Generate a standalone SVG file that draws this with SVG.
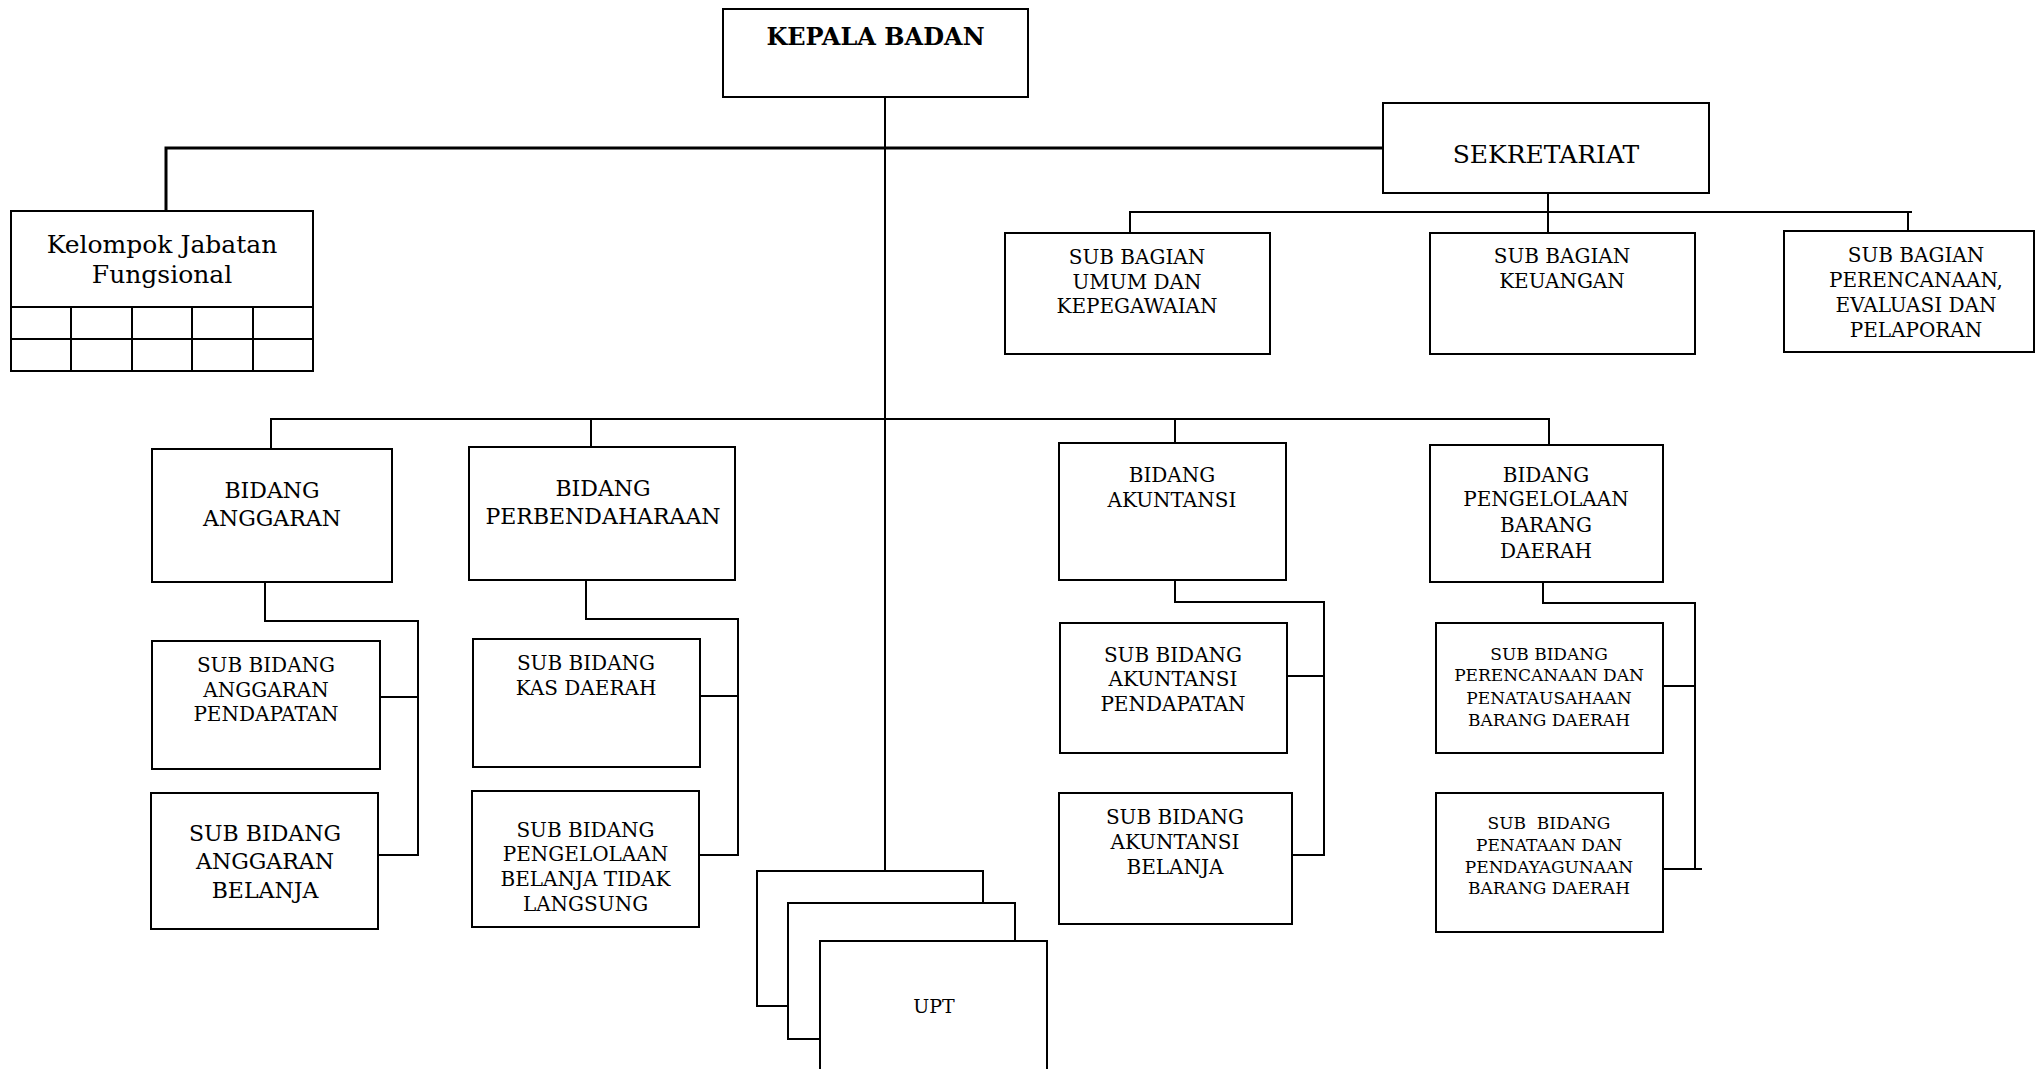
<svg xmlns="http://www.w3.org/2000/svg" width="2035" height="1069" viewBox="0 0 2035 1069">
<style>
.box{fill:#fff;stroke:#000;stroke-width:2}
.ln{fill:none;stroke:#000;stroke-width:2}
.thick{stroke-width:3}
text{font-family:"DejaVu Serif","Liberation Serif",serif;fill:#000;text-anchor:middle}
.f25{font-size:25px}.f24b{font-size:24px;font-weight:bold}.f22{font-size:22px}.f20{font-size:20px}.f19{font-size:19px}.f17{font-size:17px}
</style>
<rect width="2035" height="1069" fill="#fff"/>
<g id="connectors">
<path class="ln" d="M885,97 V871"/>
<path class="ln thick" d="M166,211 V148 H1383"/>
<path class="ln" d="M1548,193 V233 M1130,233 V212 H1912 M1908,212 V232"/>
<path class="ln" d="M271,449 V419 H1549 V445 M591,419 V447 M1175,419 V443"/>
<path class="ln" d="M265,582 V621 H418 V855 H378 M380,697 H418"/>
<path class="ln" d="M586,580 V619 H738 V855 H699 M700,696 H738"/>
<path class="ln" d="M1175,580 V602 H1324 V855 H1292 M1287,676 H1324"/>
<path class="ln" d="M1543,582 V603 H1695 V869 M1663,686 H1695 M1663,869 H1702"/>
</g>
<g id="kepala-badan">
<rect class="box" x="723" y="9" width="305" height="88"/>
<text class="f24b" x="875.5" y="45">KEPALA BADAN</text>
</g>
<g id="kelompok-jabatan-fungsional">
<rect class="box" x="11" y="211" width="302" height="160"/>
<path class="ln" d="M11,307 H313 M11,339 H313 M71,307 V371 M132,307 V371 M192,307 V371 M253,307 V371"/>
<text class="f25" x="162" y="253">Kelompok Jabatan</text>
<text class="f25" x="162" y="283">Fungsional</text>
</g>
<g id="sekretariat">
<rect class="box" x="1383" y="103" width="326" height="90"/>
<text class="f25" x="1546" y="163">SEKRETARIAT</text>
</g>
<g id="sub-bagian-umum">
<rect class="box" x="1005" y="233" width="265" height="121"/>
<text class="f20" x="1137" y="264">SUB BAGIAN</text>
<text class="f20" x="1137" y="289">UMUM DAN</text>
<text class="f20" x="1137" y="313">KEPEGAWAIAN</text>
</g>
<g id="sub-bagian-keuangan">
<rect class="box" x="1430" y="233" width="265" height="121"/>
<text class="f20" x="1562" y="263">SUB BAGIAN</text>
<text class="f20" x="1562" y="288">KEUANGAN</text>
</g>
<g id="sub-bagian-perencanaan">
<rect class="box" x="1784" y="231" width="250" height="121"/>
<text class="f20" x="1916" y="262">SUB BAGIAN</text>
<text class="f20" x="1916" y="287">PERENCANAAN,</text>
<text class="f20" x="1916" y="312">EVALUASI DAN</text>
<text class="f20" x="1916" y="337">PELAPORAN</text>
</g>
<g id="bidang-anggaran">
<rect class="box" x="152" y="449" width="240" height="133"/>
<text class="f22" x="272" y="497.5">BIDANG</text>
<text class="f22" x="272" y="525.5">ANGGARAN</text>
</g>
<g id="bidang-perbendaharaan">
<rect class="box" x="469" y="447" width="266" height="133"/>
<text class="f22" x="603" y="496">BIDANG</text>
<text class="f22" x="603" y="524">PERBENDAHARAAN</text>
</g>
<g id="bidang-akuntansi">
<rect class="box" x="1059" y="443" width="227" height="137"/>
<text class="f20" x="1172" y="482">BIDANG</text>
<text class="f20" x="1172" y="507">AKUNTANSI</text>
</g>
<g id="bidang-pengelolaan-barang-daerah">
<rect class="box" x="1430" y="445" width="233" height="137"/>
<text class="f20" x="1546" y="482">BIDANG</text>
<text class="f20" x="1546" y="506">PENGELOLAAN</text>
<text class="f20" x="1546" y="532">BARANG</text>
<text class="f20" x="1546" y="558">DAERAH</text>
</g>
<g id="sub-bidang-anggaran-pendapatan">
<rect class="box" x="152" y="641" width="228" height="128"/>
<text class="f20" x="266" y="672">SUB BIDANG</text>
<text class="f20" x="266" y="696.5">ANGGARAN</text>
<text class="f20" x="266" y="721">PENDAPATAN</text>
</g>
<g id="sub-bidang-anggaran-belanja">
<rect class="box" x="151" y="793" width="227" height="136"/>
<text class="f22" x="265" y="841">SUB BIDANG</text>
<text class="f22" x="265" y="869">ANGGARAN</text>
<text class="f22" x="265" y="897.5">BELANJA</text>
</g>
<g id="sub-bidang-kas-daerah">
<rect class="box" x="473" y="639" width="227" height="128"/>
<text class="f20" x="586" y="669.5">SUB BIDANG</text>
<text class="f20" x="586" y="694.5">KAS DAERAH</text>
</g>
<g id="sub-bidang-pengelolaan-belanja">
<rect class="box" x="472" y="791" width="227" height="136"/>
<text class="f20" x="585.5" y="837">SUB BIDANG</text>
<text class="f20" x="585.5" y="861">PENGELOLAAN</text>
<text class="f20" x="585.5" y="886">BELANJA TIDAK</text>
<text class="f20" x="585.5" y="910.5">LANGSUNG</text>
</g>
<g id="sub-bidang-akuntansi-pendapatan">
<rect class="box" x="1060" y="623" width="227" height="130"/>
<text class="f20" x="1173" y="661.5">SUB BIDANG</text>
<text class="f20" x="1173" y="686">AKUNTANSI</text>
<text class="f20" x="1173" y="711">PENDAPATAN</text>
</g>
<g id="sub-bidang-akuntansi-belanja">
<rect class="box" x="1059" y="793" width="233" height="131"/>
<text class="f20" x="1175" y="823.5">SUB BIDANG</text>
<text class="f20" x="1175" y="848.5">AKUNTANSI</text>
<text class="f20" x="1175" y="873.5">BELANJA</text>
</g>
<g id="sub-bidang-perencanaan-barang">
<rect class="box" x="1436" y="623" width="227" height="130"/>
<text class="f17" x="1549" y="659.5">SUB BIDANG</text>
<text class="f17" x="1549" y="681">PERENCANAAN DAN</text>
<text class="f17" x="1549" y="703.5">PENATAUSAHAAN</text>
<text class="f17" x="1549" y="725.5">BARANG DAERAH</text>
</g>
<g id="sub-bidang-penataan-barang">
<rect class="box" x="1436" y="793" width="227" height="139"/>
<text class="f17" x="1549" y="828.5" xml:space="preserve">SUB  BIDANG</text>
<text class="f17" x="1549" y="850.5">PENATAAN DAN</text>
<text class="f17" x="1549" y="873">PENDAYAGUNAAN</text>
<text class="f17" x="1549" y="894">BARANG DAERAH</text>
</g>
<g id="upt">
<rect class="box" x="757" y="871" width="226" height="135"/>
<rect class="box" x="788" y="903" width="227" height="136"/>
<rect class="box" x="820" y="941" width="227" height="140"/>
<text class="f19" x="934" y="1013">UPT</text>
</g>
</svg>
